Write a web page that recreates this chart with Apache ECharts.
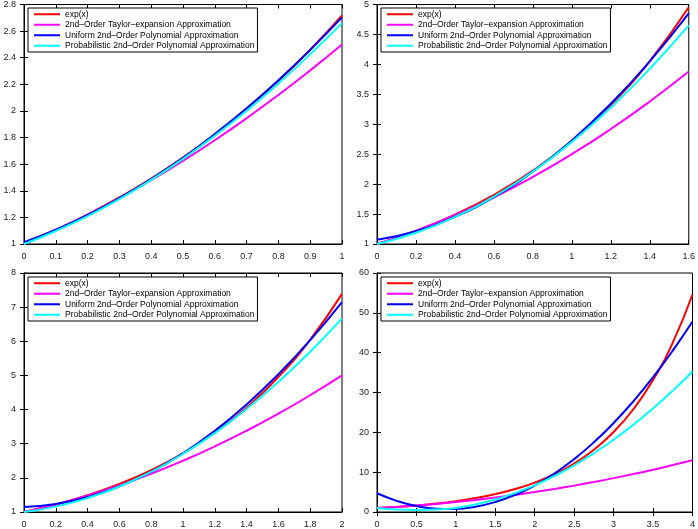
<!DOCTYPE html>
<html>
<head>
<meta charset="utf-8">
<script src="https://cdn.jsdelivr.net/npm/echarts@6/dist/echarts.min.js"></script>
<style>
	html, body { margin: 0; padding: 0; background: #fff; }
	#main { width: 698px; height: 529px; }
</style>
</head>
<body>
<div id="main"></div>
<script>
// series names and colours
var names = ['exp(x)', '2nd–Order Taylor–expansion Approximation', 'Uniform 2nd–Order Polynomial Approximation', 'Probabilistic 2nd–Order Polynomial Approximation'];
var colors = ['#ff0000', '#ff00ff', '#0000ff', '#00ffff'];

// panel 1 : x in [0,1]
var x1 = [0, 0.1, 0.2, 0.3, 0.4, 0.5, 0.6, 0.7, 0.8, 0.9, 1];
var exp1 = [1, 1.105, 1.221, 1.350, 1.492, 1.649, 1.822, 2.014, 2.226, 2.460, 2.718];
var taylor1 = [1, 1.105, 1.22, 1.345, 1.48, 1.625, 1.78, 1.945, 2.12, 2.305, 2.5];
var uniform1 = [1.013, 1.107, 1.217, 1.344, 1.488, 1.648, 1.826, 2.020, 2.231, 2.459, 2.703];
var prob1 = [1.0, 1.098, 1.210, 1.338, 1.482, 1.640, 1.814, 2.002, 2.206, 2.426, 2.66];

// panel 2 : x in [0,1.6]
var x2 = [0, 0.2, 0.4, 0.6, 0.8, 1.0, 1.2, 1.4, 1.6];
var exp2 = [1, 1.221, 1.492, 1.822, 2.226, 2.718, 3.320, 4.055, 4.953];
var taylor2 = [1, 1.22, 1.48, 1.78, 2.12, 2.5, 2.92, 3.38, 3.88];
var uniform2 = [1.07, 1.214, 1.453, 1.784, 2.21, 2.73, 3.343, 4.05, 4.85];
var prob2 = [1.0, 1.187, 1.452, 1.792, 2.21, 2.705, 3.277, 3.926, 4.65];

// panel 3 : x in [0,2]
var x3 = [0, 0.2, 0.4, 0.6, 0.8, 1.0, 1.2, 1.4, 1.6, 1.8, 2.0];
var exp3 = [1, 1.221, 1.492, 1.822, 2.226, 2.718, 3.320, 4.055, 4.953, 6.050, 7.389];
var taylor3 = [1, 1.22, 1.48, 1.78, 2.12, 2.5, 2.92, 3.38, 3.88, 4.42, 5.0];
var uniform3 = [1.15, 1.235, 1.435, 1.749, 2.177, 2.72, 3.377, 4.149, 5.035, 6.035, 7.15];
var prob3 = [1.0, 1.158, 1.408, 1.748, 2.178, 2.7, 3.312, 4.016, 4.81, 5.694, 6.67];

// panel 4 : x in [0,4]
var x4 = [0, 0.25, 0.5, 0.75, 1, 1.25, 1.5, 1.75, 2, 2.25, 2.5, 2.75, 3, 3.25, 3.5, 3.75, 4];
var exp4 = [1, 1.284, 1.649, 2.117, 2.718, 3.490, 4.482, 5.755, 7.389, 9.488, 12.18, 15.64, 20.09, 25.79, 33.12, 42.52, 54.60];
var taylor4 = [1, 1.281, 1.625, 2.031, 2.5, 3.031, 3.625, 4.281, 5, 5.781, 6.625, 7.531, 8.5, 9.531, 10.625, 11.781, 13];
var uniform4 = [4.7, 2.802, 1.517, 0.843, 0.782, 1.333, 2.496, 4.272, 6.66, 9.66, 13.27, 17.50, 22.33, 27.78, 33.84, 40.52, 47.82];
var prob4 = [1.0, 0.62, 0.5, 0.62, 1.0, 1.893, 3.144, 4.751, 6.716, 9.038, 11.718, 14.754, 18.148, 21.90, 26.01, 30.47, 35.29];

// axis ranges [min, max, interval]
var xRanges = [[0, 1, 0.1], [0, 1.6, 0.2], [0, 2, 0.2], [0, 4, 0.5]];
var yRanges = [[1, 2.8, 0.2], [1, 5, 0.5], [1, 8, 1], [0, 60, 10]];

var panels = [
	{x: x1, ys: [exp1, taylor1, uniform1, prob1]},
	{x: x2, ys: [exp2, taylor2, uniform2, prob2]},
	{x: x3, ys: [exp3, taylor3, uniform3, prob3]},
	{x: x4, ys: [exp4, taylor4, uniform4, prob4]}
];

var grids = [
	{left: 24, top: 2, width: 318, height: 242},
	{left: 377, top: 2, width: 318, height: 242},
	{left: 24, top: 273, width: 318, height: 243},
	{left: 377, top: 273, width: 318, height: 243}
];
var legendPos = [[28, 8], [381, 8], [28, 277], [381, 277]];

var labelStyle = {fontSize: 9, color: '#222', fontFamily: 'Liberation Sans'};

var option = {
	backgroundColor: '#fff',
	animation: false,
	grid: [],
	xAxis: [],
	yAxis: [],
	legend: [],
	series: []
};

for (var p = 0; p < 4; p++) {
	var g = grids[p];
	option.grid.push({left: g.left, top: g.top, width: g.width, height: g.height,
		show: true, borderColor: '#000', borderWidth: 1, containLabel: false});
	var xr = xRanges[p], yr = yRanges[p];
	// bottom and left axes with labels
	option.xAxis.push({
		type: 'value', gridIndex: p, min: xr[0], max: xr[1], interval: xr[2],
		axisLine: {show: true, lineStyle: {color: '#000', width: 1}},
		axisTick: {show: true, inside: true, length: 4, lineStyle: {color: '#000'}},
		axisLabel: labelStyle,
		splitLine: {show: false}
	});
	option.yAxis.push({
		type: 'value', gridIndex: p, min: yr[0], max: yr[1], interval: yr[2],
		axisLine: {show: true, lineStyle: {color: '#000', width: 1}},
		axisTick: {show: true, inside: true, length: 4, lineStyle: {color: '#000'}},
		axisLabel: labelStyle,
		splitLine: {show: false}
	});
	var ser = panels[p];
	for (var s = 0; s < 4; s++) {
		var pts = [];
		for (var i = 0; i < ser.x.length; i++) {
			pts.push([ser.x[i], ser.ys[s][i]]);
		}
		option.series.push({
			type: 'line', name: names[s], xAxisIndex: p, yAxisIndex: p,
			data: pts, smooth: true, showSymbol: false, symbol: 'none',
			lineStyle: {color: colors[s], width: 2},
			itemStyle: {color: colors[s]}
		});
	}
	option.legend.push({
		orient: 'vertical', left: legendPos[p][0], top: legendPos[p][1],
		data: names, icon: 'rect', itemWidth: 26, itemHeight: 2, itemGap: 0,
		selectedMode: false,
		textStyle: {fontSize: 8.5, lineHeight: 10.5, color: '#000', fontFamily: 'Liberation Sans'},
		borderColor: '#000', borderWidth: 1, backgroundColor: '#fff',
		padding: [1, 3, 1, 6]
	});
}

// top and right tick marks (box style)
for (var p = 0; p < 4; p++) {
	var xr = xRanges[p], yr = yRanges[p];
	option.xAxis.push({
		type: 'value', gridIndex: p, position: 'top', min: xr[0], max: xr[1], interval: xr[2],
		axisLine: {show: true, lineStyle: {color: '#000'}},
		axisTick: {show: true, inside: true, length: 4, lineStyle: {color: '#000'}},
		axisLabel: {show: false}, splitLine: {show: false}
	});
	option.yAxis.push({
		type: 'value', gridIndex: p, position: 'right', min: yr[0], max: yr[1], interval: yr[2],
		axisLine: {show: true, lineStyle: {color: '#000'}},
		axisTick: {show: true, inside: true, length: 4, lineStyle: {color: '#000'}},
		axisLabel: {show: false}, splitLine: {show: false}
	});
}

var myChart = echarts.init(document.getElementById('main'));
myChart.setOption(option);
</script>
</body>
</html>
